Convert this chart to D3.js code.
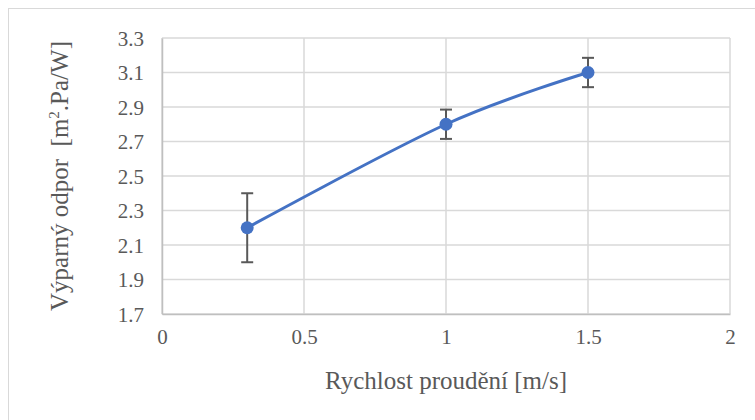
<!DOCTYPE html>
<html>
<head>
<meta charset="utf-8">
<script src="https://cdn.jsdelivr.net/npm/d3@7"></script>
<style>
  html, body { margin: 0; padding: 0; background: #fff; }
  svg { display: block; }
  svg text { font-family: "Times New Roman", Times, "Liberation Serif", "DejaVu Serif", "Noto Serif", serif !important; fill: #595959; white-space: pre; }
</style>
</head>
<body>
<svg id="chart" width="755" height="420"></svg>
<script>
// Flow speed [m/s]
const speeds = [0.3, 1, 1.5];
// Evaporative resistance [m².Pa/W]
const resistance = [2.2, 2.8, 3.1];
// Error bar half-widths
const errors = [0.2, 0.085, 0.085];
// Axis ticks
const xTicks = [0, 0.5, 1, 1.5, 2];
const yTicks = [1.7, 1.9, 2.1, 2.3, 2.5, 2.7, 2.9, 3.1, 3.3];

const serif = "'Times New Roman', Times, 'Liberation Serif', 'DejaVu Serif', 'Noto Serif', serif";
const svg = d3.select("#chart");
const W = 755, H = 420;
const plot = { left: 162, right: 730, top: 38, bottom: 314 };

const x = d3.scaleLinear().domain([0, 2]).range([plot.left, plot.right]);
const y = d3.scaleLinear().domain([1.7, 3.3]).range([plot.bottom, plot.top]);

// chart frame
svg.append("rect")
  .attr("x", 8.5).attr("y", 8.5)
  .attr("width", W - 8).attr("height", H - 8)
  .attr("fill", "#fff").attr("stroke", "#d9d9d9").attr("stroke-width", 1);

// grid
const grid = svg.append("g");
grid.selectAll("line.h").data(yTicks).join("line")
  .attr("x1", plot.left).attr("x2", plot.right)
  .attr("y1", d => y(d)).attr("y2", d => y(d))
  .attr("stroke", "#d9d9d9").attr("stroke-width", 1.5);
grid.selectAll("line.v").data(xTicks).join("line")
  .attr("y1", plot.top).attr("y2", plot.bottom)
  .attr("x1", d => x(d)).attr("x2", d => x(d))
  .attr("stroke", "#d9d9d9").attr("stroke-width", 1.5);

// axes (labels only, Excel style)
const xAxis = svg.append("g")
  .attr("transform", `translate(0,${plot.bottom})`)
  .call(d3.axisBottom(x).tickValues(xTicks).tickFormat(d3.format("")).tickSize(0).tickPadding(14));
const yAxis = svg.append("g")
  .attr("transform", `translate(${plot.left},0)`)
  .call(d3.axisLeft(y).tickValues(yTicks).tickFormat(d3.format(".1f")).tickSize(0).tickPadding(18));
[xAxis, yAxis].forEach(a => {
  a.attr("font-family", serif).attr("font-size", 21);
  a.select(".domain").attr("stroke", "#bfbfbf").attr("stroke-width", 1.5);
  a.selectAll("text").attr("font-size", 21).attr("fill", "#595959");
});
xAxis.selectAll("text").attr("dy", "0.75em");
yAxis.selectAll("text").attr("dy", "0.35em");

// smoothed series line
const line = d3.line()
  .x((d, i) => x(speeds[i]))
  .y(d => y(d))
  .curve(d3.curveCardinal.tension(0));
svg.append("path")
  .datum(resistance)
  .attr("d", line)
  .attr("fill", "none")
  .attr("stroke", "#4472c4")
  .attr("stroke-width", 3)
  .attr("stroke-linecap", "round");

// error bars
const eb = svg.append("g").attr("stroke", "#595959").attr("stroke-width", 2);
speeds.forEach((s, i) => {
  const cx = x(s), lo = y(resistance[i] - errors[i]), hi = y(resistance[i] + errors[i]);
  eb.append("line").attr("x1", cx).attr("x2", cx).attr("y1", lo).attr("y2", hi);
  eb.append("line").attr("x1", cx - 6).attr("x2", cx + 6).attr("y1", lo).attr("y2", lo);
  eb.append("line").attr("x1", cx - 6).attr("x2", cx + 6).attr("y1", hi).attr("y2", hi);
});

// markers
svg.append("g").selectAll("circle").data(resistance).join("circle")
  .attr("cx", (d, i) => x(speeds[i]))
  .attr("cy", d => y(d))
  .attr("r", 6.5)
  .attr("fill", "#4472c4");

// axis titles
svg.append("text")
  .attr("x", (plot.left + plot.right) / 2).attr("y", 389)
  .attr("text-anchor", "middle")
  .attr("font-size", 25)
  .text("Rychlost proudění [m/s]");

const yt = svg.append("text")
  .attr("transform", `translate(68,${(plot.top + plot.bottom) / 2}) rotate(-90)`)
  .attr("text-anchor", "middle")
  .attr("font-size", 25);
yt.append("tspan").text("Výparný odpor\u00a0\u00a0[m");
yt.append("tspan").attr("font-size", 15).attr("dy", -9).text("2");
yt.append("tspan").attr("dy", 9).text(".Pa/W]");
</script>
</body>
</html>
